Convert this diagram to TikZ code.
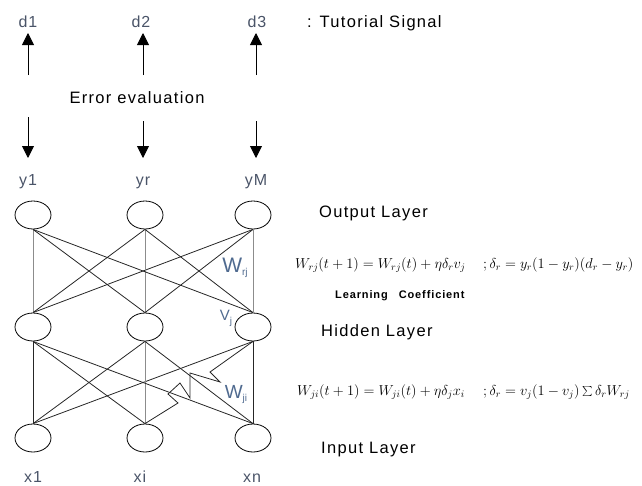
\documentclass[tikz,border=0pt]{standalone}
\usepackage{fontspec}
\setmainfont{Liberation Sans}
\usetikzlibrary{positioning,shapes.geometric,arrows.meta}
\definecolor{tag}{HTML}{4A5468}
\definecolor{weight}{HTML}{4F6A8F}

\begin{document}
\begin{tikzpicture}[
    x=1pt, y=-1pt,
    neuron/.style={ellipse, draw, line width=0.8pt, minimum width=36pt, minimum height=28pt, inner sep=0pt},
    tag/.style={inner sep=0pt, color=tag, font=\fontsize{16}{18}\selectfont\addfontfeature{LetterSpace=6}},
    caption/.style={inner sep=0pt, font=\fontsize{16.5}{18}\selectfont\addfontfeature{LetterSpace=8}},
    eqn/.style={inner sep=0pt, anchor=base west, font=\fontsize{14.4}{16}\selectfont},
    weightlbl/.style={inner sep=0pt, color=weight},
    link/.style={draw=black!85, line width=0.8pt},
    vlink/.style={draw=black!45, line width=0.8pt},
    sig/.style={draw=black, line width=0.9pt, -{Triangle[width=12pt,length=12pt]}}
]
\useasboundingbox (0,0) rectangle (642,485);

% Tutorial signals
\node[tag, anchor=base] (d1) at (28,27) {d1};
\node[tag, anchor=base] (d2) at (141,27) {d2};
\node[tag, anchor=base] (d3) at (257,27) {d3};
\node[caption, anchor=base west] (tut) at (307,27) {: Tutorial Signal};

% Error evaluation arrows
\coordinate (u1) at (28,75);  \coordinate (t1) at (28,33);
\coordinate (u2) at (143,75); \coordinate (t2) at (143,33);
\coordinate (u3) at (256,75); \coordinate (t3) at (256,33);
\draw[sig] (u1) -- (t1);
\draw[sig] (u2) -- (t2);
\draw[sig] (u3) -- (t3);
\node[caption, anchor=base] (err) at (137,103) {Error evaluation};
\coordinate (e1) at (28,117);  \coordinate (f1) at (28,158);
\coordinate (e2) at (143,121); \coordinate (f2) at (143,158);
\coordinate (e3) at (256,121); \coordinate (f3) at (256,158);
\draw[sig] (e1) -- (f1);
\draw[sig] (e2) -- (f2);
\draw[sig] (e3) -- (f3);

% Output layer
\node[tag, anchor=base] (y1) at (28,185) {y1};
\node[tag, anchor=base] (yr) at (143,185) {yr};
\node[tag, anchor=base] (yM) at (256,185) {yM};
\node[neuron] (o1) at (33,215) {};
\node[neuron] (o2) at (145,215) {};
\node[neuron] (o3) at (253,215) {};
\node[caption, anchor=base west] (outl) at (319,217) {Output Layer};

% Hidden layer
\node[neuron] (h1) at (33,327) {};
\node[neuron] (h2) at (145,327) {};
\node[neuron] (h3) at (253,327) {};
\node[caption, anchor=base west] (hidl) at (321,336) {Hidden Layer};

% Input layer
\node[neuron] (i1) at (33,438) {};
\node[neuron] (i2) at (145,438) {};
\node[neuron] (i3) at (253,438) {};
\node[caption, anchor=base west] (inl) at (321,453) {Input Layer};
\node[tag, anchor=base] (x1) at (33,482) {x1};
\node[tag, anchor=base] (xi) at (140,482) {xi};
\node[tag, anchor=base] (xn) at (252,482) {xn};

% Links hidden -> output
\draw[vlink] (h1.north) -- (o1.south);
\draw[link] (h1.north) -- (o2.south); \draw[link] (h1.north) -- (o3.south);
\draw[link] (h2.north) -- (o1.south); \draw[vlink] (h2.north) -- (o2.south);
\draw[link] (h2.north) -- (o3.south);
\draw[link] (h3.north) -- (o1.south); \draw[link] (h3.north) -- (o2.south);
\draw[vlink] (h3.north) -- (o3.south);

% Links input -> hidden
\draw[link] (i1.north) -- (h1.south);
\draw[link] (i1.north) -- (h2.south); \draw[link] (i1.north) -- (h3.south);
\draw[link] (i2.north) -- (h1.south); \draw[vlink] (i2.north) -- (h2.south);
\draw[link] (i3.north) -- (h1.south); \draw[link] (i3.north) -- (h2.south);
\draw[link] (i3.north) -- (h3.south);
% xi -> hidden j drawn as a zigzag
\draw[link] (i2.north) -- (178,403) -- (168,394) -- (180,383) -- (190,398)
    -- (190,373) -- (220,382) -- (210,372) -- (h3.south);

% Weight labels
\node[weightlbl, anchor=base] (wrj) at (235,272) {\fontsize{21}{21}\selectfont W\raisebox{-3pt}{\fontsize{10}{10}\selectfont rj}};
\node[weightlbl, anchor=base] (vj) at (226,320) {\fontsize{15}{15}\selectfont V\raisebox{-4pt}{\fontsize{10}{10}\selectfont j}};
\node[weightlbl, anchor=base] (wji) at (236,398) {\fontsize{19}{19}\selectfont W\raisebox{-3pt}{\fontsize{10}{10}\selectfont ji}};

% Learning rules
\node[eqn] (eq1) at (295,268) {$W_{rj}(t+1)=W_{rj}(t)+\eta\delta_r v_j$};
\node[eqn] (eq1d) at (483,268) {$;\delta_r = y_r(1-y_r)(d_r-y_r)$};
\node[inner sep=0pt, anchor=base west, font=\bfseries\fontsize{11}{12}\selectfont\addfontfeature{LetterSpace=8}] (lc) at (335,298) {Learning\quad Coefficient};
\node[eqn] (eq2) at (297,395) {$W_{ji}(t+1)=W_{ji}(t)+\eta\delta_j x_i$};
\node[eqn] (eq2d) at (483,395) {$;\delta_r = v_j(1-v_j)\sum\delta_r W_{rj}$};

\end{tikzpicture}
\end{document}
